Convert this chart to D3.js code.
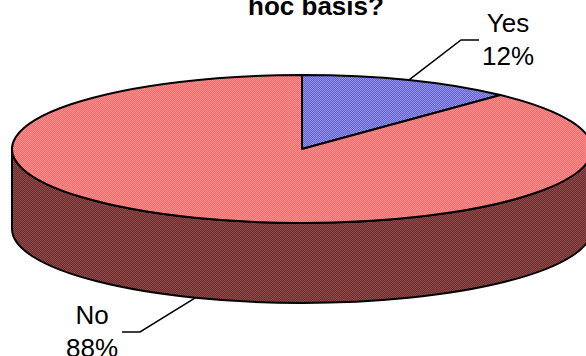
<!DOCTYPE html>
<html>
<head>
<meta charset="utf-8">
<script src="https://cdn.jsdelivr.net/npm/d3@7"></script>
<style>
  html, body { margin: 0; padding: 0; background: #fff; }
  svg { display: block; }
  text { font-family: "Liberation Sans", Arial, sans-serif; fill: #000; }
</style>
</head>
<body>
<svg id="chart" width="586" height="356"></svg>
<script>
// Survey answers
const categories = ["Yes", "No"];
const values = [12, 88];
const percentLabels = ["12%", "88%"];
const titleLine = "hoc basis?";

const svg = d3.select("#chart");

// Ellipse geometry of the tilted pie
const cx = 302, cy = 149, rx = 290, ry = 74, depth = 80;

// Dithered fills: top face and side wall for each slice
const fills = {
  Yes: { top: ["#6262c6", "#9494f0"] },
  No:  { top: ["#ff6464", "#ff9696"], side: ["#6c3030", "#8e4848"] }
};

const defs = svg.append("defs");
function dither(id, c) {
  const p = defs.append("pattern")
    .attr("id", id).attr("patternUnits", "userSpaceOnUse")
    .attr("width", 2).attr("height", 2);
  p.append("rect").attr("width", 2).attr("height", 2).attr("fill", c[0])
    .attr("shape-rendering", "crispEdges");
  p.append("rect").attr("width", 1).attr("height", 1).attr("fill", c[1])
    .attr("shape-rendering", "crispEdges");
  p.append("rect").attr("x", 1).attr("y", 1).attr("width", 1).attr("height", 1).attr("fill", c[1])
    .attr("shape-rendering", "crispEdges");
}
dither("yesTop", fills.Yes.top);
dither("noTop", fills.No.top);
dither("noSide", fills.No.side);

const pie = d3.pie().sort(null).value(d => d.value);
const arcs = pie(categories.map((c, i) => ({ cat: c, value: values[i], pct: percentLabels[i] })));

// angle measured clockwise from 12 o'clock -> point on the ellipse
function pt(a, dy = 0) {
  return [cx + rx * Math.sin(a), cy - ry * Math.cos(a) + dy];
}

function topPath(d) {
  const s = pt(d.startAngle), e = pt(d.endAngle);
  const large = (d.endAngle - d.startAngle) > Math.PI ? 1 : 0;
  return `M${cx},${cy}L${s[0]},${s[1]}A${rx},${ry} 0 ${large} 1 ${e[0]},${e[1]}Z`;
}

function sidePath(d) {
  const a1 = Math.max(d.startAngle, Math.PI / 2);
  const a2 = Math.min(d.endAngle, 3 * Math.PI / 2);
  if (a2 <= a1) return null;
  const s = pt(a1), e = pt(a2), eb = pt(a2, depth), sb = pt(a1, depth);
  return `M${s[0]},${s[1]}A${rx},${ry} 0 0 1 ${e[0]},${e[1]}` +
         `L${eb[0]},${eb[1]}A${rx},${ry} 0 0 0 ${sb[0]},${sb[1]}Z`;
}

const g = svg.append("g");

// Side walls first
arcs.forEach(d => {
  const sp = sidePath(d);
  if (sp && fills[d.data.cat].side) {
    g.append("path").attr("d", sp)
      .attr("fill", "url(#noSide)")
      .attr("stroke", "#000").attr("stroke-width", 2).attr("stroke-linejoin", "round");
  }
});

// Top faces
arcs.forEach(d => {
  g.append("path").attr("d", topPath(d))
    .attr("fill", d.data.cat === "Yes" ? "url(#yesTop)" : "url(#noTop)")
    .attr("stroke", "#000").attr("stroke-width", 2).attr("stroke-linejoin", "round");
});

// Title (last line of a wrapped heading)
svg.append("text")
  .attr("x", 316).attr("y", 15)
  .attr("text-anchor", "middle")
  .attr("font-size", 26).attr("font-weight", "bold")
  .text(titleLine);

// Labels with elbow leader lines
const labelLayout = {
  Yes: { elbow: [461, 40], end: [479, 40], text: [508, 32], onTop: true },
  No:  { elbow: [140, 332], end: [122, 332], text: [92, 324], onTop: false }
};

arcs.forEach(d => {
  const L = labelLayout[d.data.cat];
  const mid = (d.startAngle + d.endAngle) / 2;
  const a = L.onTop ? pt(mid) : pt(mid, depth);
  svg.append("path")
    .attr("d", d3.line()([a, L.elbow, L.end]))
    .attr("fill", "none").attr("stroke", "#000").attr("stroke-width", 1.5);
  const t = svg.append("text")
    .attr("x", L.text[0]).attr("y", L.text[1])
    .attr("text-anchor", "middle").attr("font-size", 26);
  t.append("tspan").attr("x", L.text[0]).text(d.data.cat);
  t.append("tspan").attr("x", L.text[0]).attr("dy", 33).text(d.data.pct);
});
</script>
</body>
</html>
